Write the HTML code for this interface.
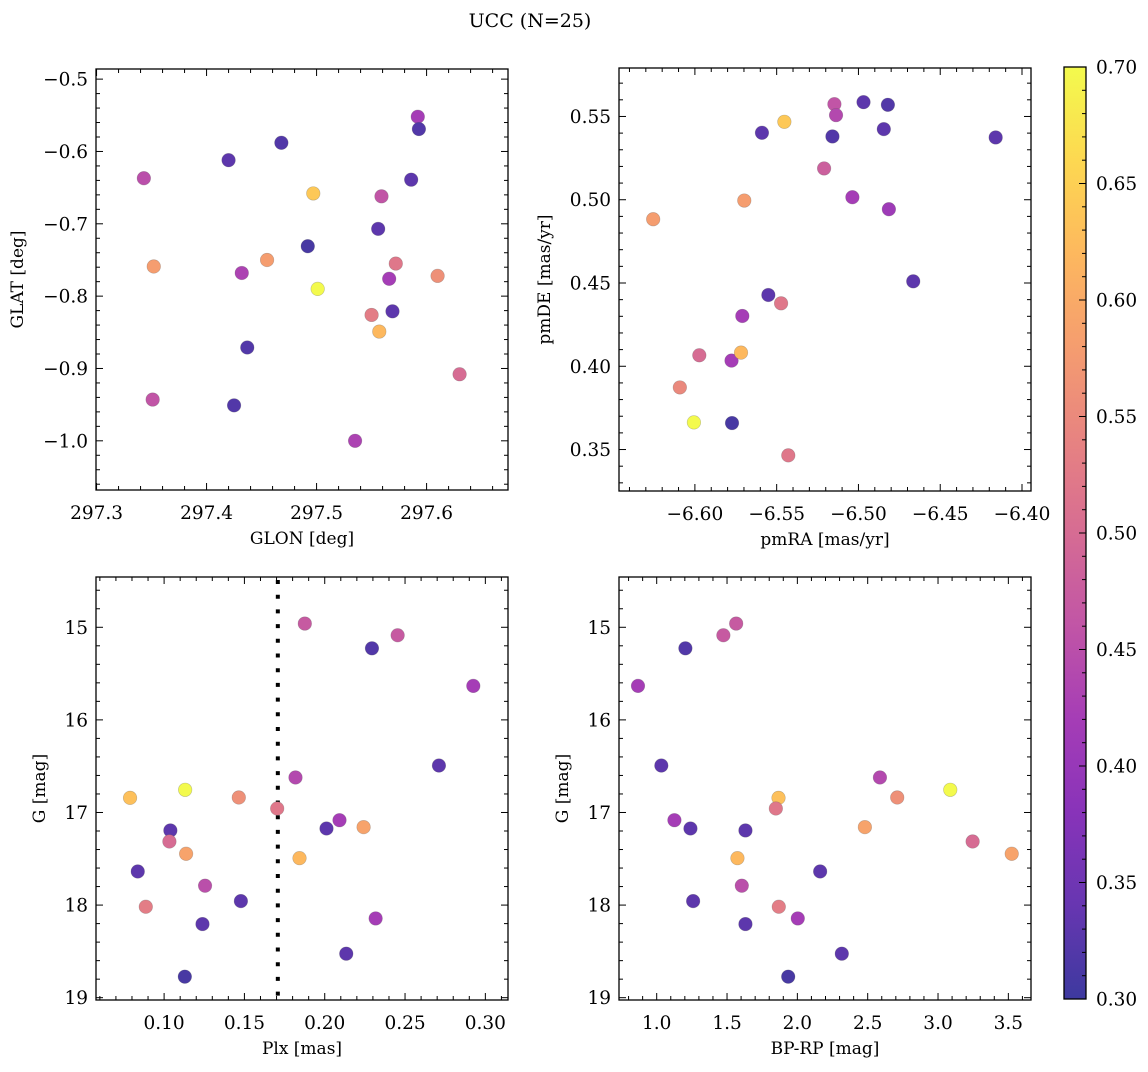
<!DOCTYPE html>
<html><head><meta charset="utf-8"><style>
body{margin:0;background:#fff;}
svg text{font-family:"DejaVu Serif","Liberation Serif",serif;fill:#000;}
</style></head><body>
<svg id="fig" width="1148" height="1067" xmlns="http://www.w3.org/2000/svg">
<text x="530" y="27" font-size="19" text-anchor="middle">UCC (N=25)</text>
</svg>
<script>
// Panel 1: GLON vs GLAT
const glon = [297.343,297.420,297.468,297.592,297.593,297.586,297.497,297.559,297.556,297.492,297.352,297.432,297.455,297.501,297.572,297.566,297.610,297.550,297.569,297.557,297.437,297.630,297.351,297.425,297.535];
const glat = [-0.637,-0.612,-0.588,-0.552,-0.569,-0.639,-0.658,-0.662,-0.707,-0.731,-0.759,-0.768,-0.750,-0.790,-0.755,-0.776,-0.772,-0.826,-0.821,-0.849,-0.871,-0.908,-0.943,-0.951,-1.000];
const prob1 = [0.45,0.33,0.32,0.42,0.32,0.33,0.64,0.46,0.33,0.31,0.58,0.43,0.58,0.70,0.52,0.42,0.56,0.53,0.33,0.62,0.32,0.50,0.46,0.32,0.43];
// Panel 2: pmRA vs pmDE
const pmra = [-6.5147,-6.4969,-6.4820,-6.5137,-6.5453,-6.5590,-6.5159,-6.4845,-6.4161,-6.5210,-6.5698,-6.6255,-6.5037,-6.4814,-6.4665,-6.5551,-6.5473,-6.5710,-6.5973,-6.5776,-6.5718,-6.6092,-6.6006,-6.5773,-6.5429];
const pmde = [0.5574,0.5586,0.5570,0.5508,0.5468,0.5402,0.5380,0.5424,0.5374,0.5188,0.4995,0.4883,0.5015,0.4943,0.4510,0.4428,0.4378,0.4302,0.4066,0.4034,0.4082,0.3873,0.3663,0.3659,0.3465];
const prob2 = [0.46,0.33,0.32,0.44,0.64,0.33,0.32,0.33,0.33,0.48,0.58,0.58,0.42,0.41,0.33,0.33,0.52,0.42,0.50,0.42,0.62,0.55,0.70,0.31,0.52];
// Panels 3/4: Plx, BP-RP vs G
const plx = [0.1876,0.2454,0.2294,0.2925,0.2711,0.1818,0.0788,0.1131,0.1465,0.1704,0.1039,0.1033,0.1137,0.2092,0.2011,0.2242,0.1843,0.0836,0.1255,0.1478,0.0886,0.1239,0.2317,0.2134,0.1129];
const bprp = [1.565,1.474,1.204,0.867,1.033,2.587,1.866,3.087,2.710,1.847,1.631,3.246,3.524,1.126,1.240,2.480,1.574,2.162,1.605,1.259,1.868,1.631,2.003,2.316,1.935];
const gmag = [14.960,15.086,15.227,15.633,16.493,16.622,16.842,16.755,16.838,16.957,17.194,17.313,17.446,17.083,17.173,17.158,17.493,17.637,17.791,17.957,18.018,18.205,18.144,18.525,18.773];
const prob3 = [0.47,0.47,0.32,0.42,0.33,0.44,0.63,0.70,0.56,0.52,0.33,0.50,0.59,0.42,0.33,0.59,0.62,0.33,0.45,0.33,0.53,0.33,0.42,0.33,0.31];
const plxCut = [0.1708];
const cbTicks = [0.30,0.35,0.40,0.45,0.50,0.55,0.60,0.65,0.70];

const NS='http://www.w3.org/2000/svg';
const svg=document.getElementById('fig');
function el(tag,attrs,parent){const e=document.createElementNS(NS,tag);for(const k in attrs)e.setAttribute(k,attrs[k]);(parent||svg).appendChild(e);return e;}
const stops=['#0d0887','#41049d','#6a00a8','#8f0da4','#b12a90','#cc4778','#e16462','#f2844b','#fca636','#fcce25','#f0f921'];
function hex(h){return [1,3,5].map(i=>parseInt(h.substr(i,2),16));}
function cmap(v){let t=(v-0.3)/0.4;t=Math.max(0,Math.min(1,t));const f=t*10,i=Math.min(9,Math.floor(f)),r=f-i;const a=hex(stops[i]),b=hex(stops[i+1]);
 const c=a.map((x,k)=>x+(b[k]-x)*r).map(x=>Math.round(0.8*x+0.2*255));return `rgb(${c[0]},${c[1]},${c[2]})`;}
function fmt(v,d){const s=Math.abs(v).toFixed(d);return (v<0?'\u2212':'')+s;}

function panel(p){
 const g=el('g',{});
 
 
 const sx=v=>p.x0+(v-p.xmin)/(p.xmax-p.xmin)*(p.x1-p.x0);
 const sy=v=>p.invert? p.y0+(v-p.ymin)/(p.ymax-p.ymin)*(p.y1-p.y0) : p.y1-(v-p.ymin)/(p.ymax-p.ymin)*(p.y1-p.y0);
 const tg=el('g',{stroke:'#000','stroke-width':1},g);
 const lo=(a,b)=>Math.min(a,b),hi=(a,b)=>Math.max(a,b);
 for(let v=Math.ceil(p.xmin/p.xminor-1e-6)*p.xminor;v<=p.xmax+1e-9;v+=p.xminor){
  const X=sx(v),maj=Math.abs(v/p.xmajor-Math.round(v/p.xmajor))<1e-4,L=maj?7:4;
  el('line',{x1:X,x2:X,y1:p.y1,y2:p.y1-L},tg);el('line',{x1:X,x2:X,y1:p.y0,y2:p.y0+L},tg);
  if(maj){const t=el('text',{x:X,y:p.y1+29,'font-size':18.5,'text-anchor':'middle',stroke:'none'},g);t.textContent=fmt(Math.round(v/p.xmajor)*p.xmajor,p.xd);
   
   }
 }
 const ya=lo(p.ymin,p.ymax),yb=hi(p.ymin,p.ymax);
 for(let v=Math.ceil(ya/p.yminor-1e-6)*p.yminor;v<=yb+1e-9;v+=p.yminor){
  const Y=sy(v),maj=Math.abs(v/p.ymajor-Math.round(v/p.ymajor))<1e-4,L=maj?7:4;
  el('line',{y1:Y,y2:Y,x1:p.x0,x2:p.x0+L},tg);el('line',{y1:Y,y2:Y,x1:p.x1,x2:p.x1-L},tg);
  if(maj){const t=el('text',{x:p.x0-8,y:Y+6.5,'font-size':18.5,'text-anchor':'end',stroke:'none'},g);t.textContent=fmt(Math.round(v/p.ymajor)*p.ymajor,p.yd);
   
   }
 }
 if(p.vline){const X=sx(p.vline[0]);const l=el('line',{x1:X,x2:X,y1:p.y0+3,y2:p.y1,stroke:'#000','stroke-width':4,'stroke-dasharray':'4 10.7'},g);
  
  }
 for(let i=0;i<p.xs.length;i++){
  const c=el('circle',{cx:sx(p.xs[i]),cy:sy(p.ys[i]),r:6.8,fill:cmap(p.cs[i]),stroke:'rgba(90,90,90,0.35)','stroke-width':0.6},g);
  
  
 }
 const f=el('rect',{x:p.x0,y:p.y0,width:p.x1-p.x0,height:p.y1-p.y0,fill:'none',stroke:'#000','stroke-width':1.3},g);
 
 
 const xl=el('text',{x:(p.x0+p.x1)/2,y:p.y1+54,'font-size':17,'text-anchor':'middle'},g);xl.textContent=p.xlabel;
 
 
 const yl=el('text',{x:0,y:0,'font-size':17,'text-anchor':'middle',transform:`translate(${p.ylx},${(p.y0+p.y1)/2}) rotate(-90)`},g);yl.textContent=p.ylabel;
 
 
}

panel({name:'glon-glat-panel',x0:96,x1:508,y0:69,y1:490,xmin:297.2995,xmax:297.674,ymin:-1.068,ymax:-0.486,xmajor:0.1,xminor:0.02,ymajor:0.1,yminor:0.02,xd:1,yd:1,xs:glon,ys:glat,cs:prob1,xlabel:'GLON [deg]',ylabel:'GLAT [deg]',ylx:23});
panel({name:'pm-panel',x0:619,x1:1031,y0:68,y1:491,xmin:-6.6464,xmax:-6.3945,ymin:0.3251,ymax:0.5791,xmajor:0.05,xminor:0.01,ymajor:0.05,yminor:0.01,xd:2,yd:2,xs:pmra,ys:pmde,cs:prob2,xlabel:'pmRA [mas/yr]',ylabel:'pmDE [mas/yr]',ylx:550});
panel({name:'plx-g-panel',x0:96,x1:508,y0:577,y1:1000,xmin:0.0576,xmax:0.3141,ymin:14.457,ymax:19.025,invert:true,xmajor:0.05,xminor:0.01,ymajor:1,yminor:0.2,xd:2,yd:0,xs:plx,ys:gmag,cs:prob3,xlabel:'Plx [mas]',ylabel:'G [mag]',ylx:45,vline:plxCut});
panel({name:'cmd-panel',x0:619,x1:1031,y0:577,y1:1000,xmin:0.732,xmax:3.661,ymin:14.457,ymax:19.025,invert:true,xmajor:0.5,xminor:0.1,ymajor:1,yminor:0.2,xd:1,yd:0,xs:bprp,ys:gmag,cs:prob3,xlabel:'BP-RP [mag]',ylabel:'G [mag]',ylx:568});

(function(){
 const x0=1064,x1=1086,y0=67,y1=999;
 const g=el('g',{});
 
 
 const defs=el('defs',{},g);
 const lg=el('linearGradient',{id:'cbg',x1:0,y1:1,x2:0,y2:0},defs);
 for(let i=0;i<=20;i++){el('stop',{offset:i/20,'stop-color':cmap(0.3+0.4*i/20)},lg);}
 el('rect',{x:x0,y:y0,width:x1-x0,height:y1-y0,fill:'url(#cbg)'},g);
 const sy=v=>y1-(v-0.3)/0.4*(y1-y0);
 for(let k=30;k<=70;k++){const v=k/100,Y=sy(v),maj=k%5===0;
  el('line',{x1:x1,x2:x1-(maj?7:4),y1:Y,y2:Y,stroke:'#000','stroke-width':1},g);}
 cbTicks.forEach(v=>{const t=el('text',{x:x1+10,y:sy(v)+6.5,'font-size':18.5},g);t.textContent=v.toFixed(2);
  
  });
 el('rect',{x:x0,y:y0,width:x1-x0,height:y1-y0,fill:'none',stroke:'#000','stroke-width':1.3},g);
})();
</script>
</body></html>
